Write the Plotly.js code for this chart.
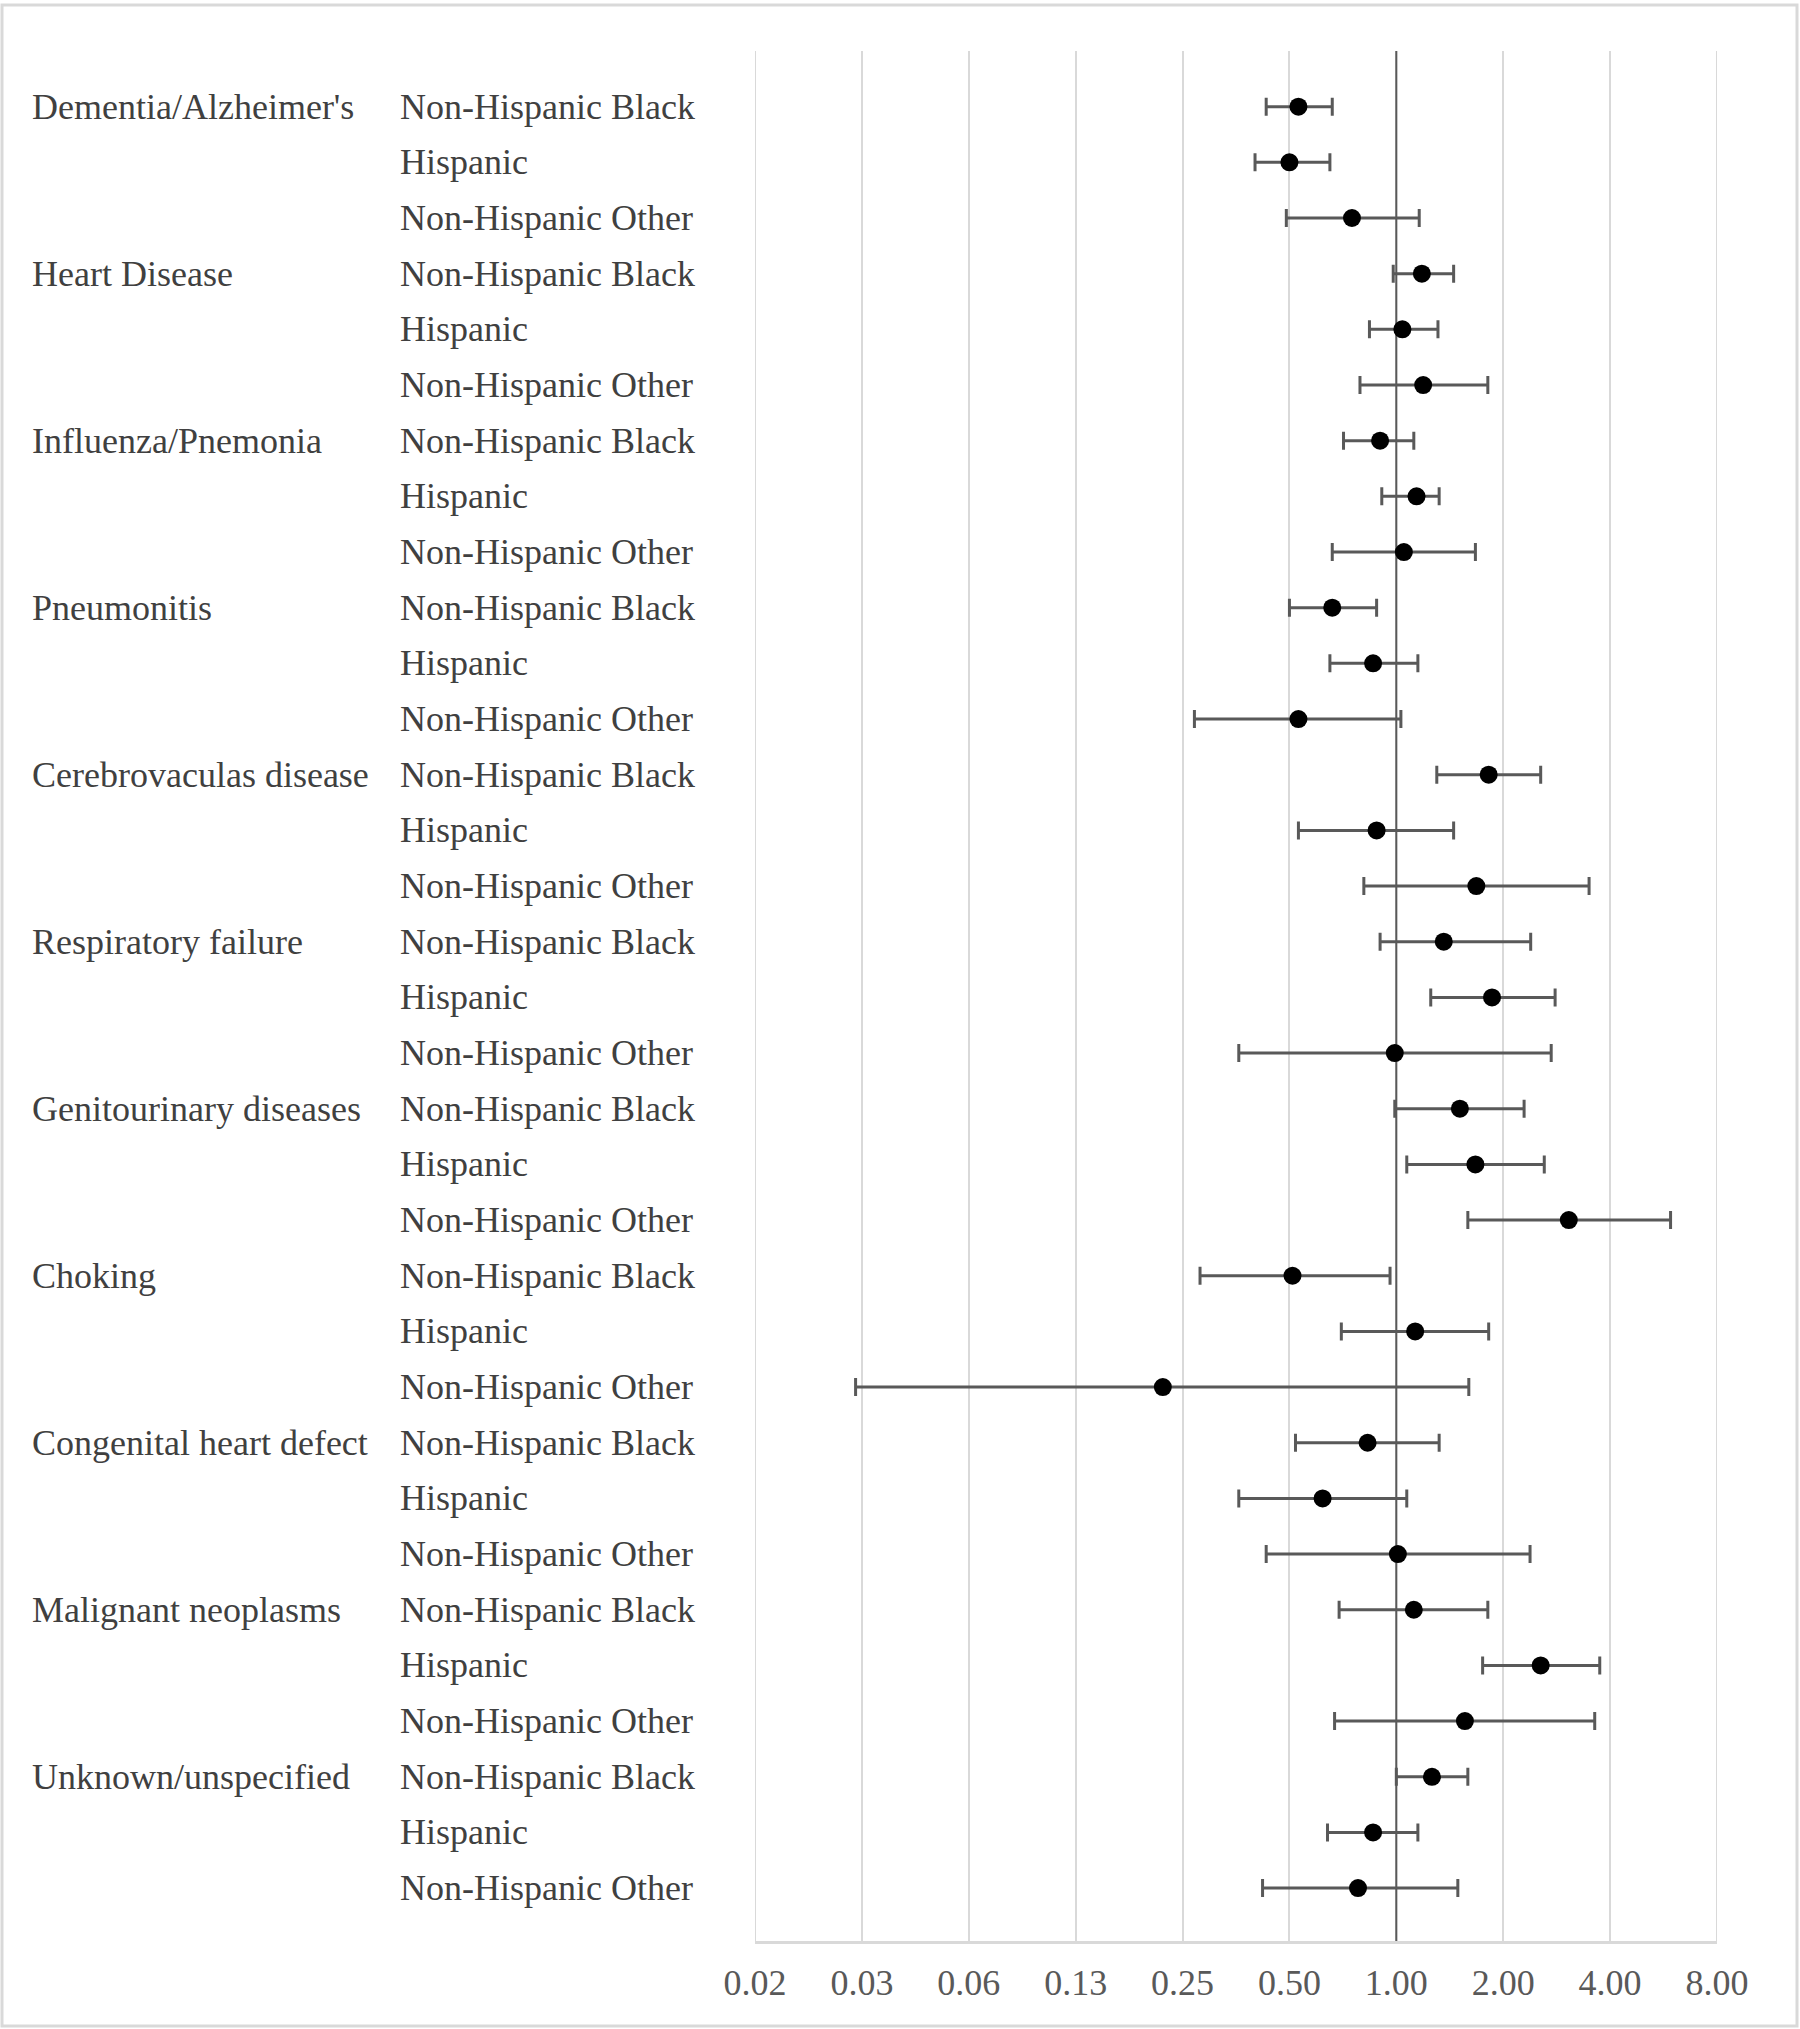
<!DOCTYPE html>
<html>
<head>
<meta charset="utf-8">
<script src="https://cdn.plot.ly/plotly-3.0.1.min.js"></script>
<style>
  html, body { margin: 0; padding: 0; background: #fff; }
  #chart { width: 1800px; height: 2029px; }
</style>
</head>
<body>
<div id="chart"></div>
<script>
// causes of death, three race/ethnicity rows each (reference: Non-Hispanic White)
const causes = [
  "Dementia/Alzheimer's", 'Heart Disease', 'Influenza/Pnemonia', 'Pneumonitis',
  'Cerebrovaculas disease', 'Respiratory failure', 'Genitourinary diseases',
  'Choking', 'Congenital heart defect', 'Malignant neoplasms', 'Unknown/unspecified'
];
const groups = ['Non-Hispanic Black', 'Hispanic', 'Non-Hispanic Other'];

// odds ratio and 95% CI, one value per row (cause x group, top to bottom)
const orPoint = [
  0.53, 0.50, 0.75,
  1.18, 1.04, 1.19,
  0.90, 1.14, 1.05,
  0.66, 0.86, 0.53,
  1.82, 0.88, 1.68,
  1.36, 1.86, 0.99,
  1.51, 1.67, 3.06,
  0.51, 1.13, 0.22,
  0.83, 0.62, 1.01,
  1.12, 2.55, 1.56,
  1.26, 0.86, 0.78
];
const ciLow = [
  0.43, 0.40, 0.49,
  0.98, 0.84, 0.79,
  0.71, 0.91, 0.66,
  0.50, 0.65, 0.27,
  1.30, 0.53, 0.81,
  0.90, 1.25, 0.36,
  0.99, 1.07, 1.59,
  0.28, 0.70, 0.03,
  0.52, 0.36, 0.43,
  0.69, 1.75, 0.67,
  1.00, 0.64, 0.42
];
const ciHigh = [
  0.66, 0.65, 1.16,
  1.45, 1.31, 1.81,
  1.12, 1.32, 1.67,
  0.88, 1.15, 1.03,
  2.55, 1.45, 3.49,
  2.39, 2.80, 2.73,
  2.29, 2.61, 5.92,
  0.96, 1.82, 1.60,
  1.32, 1.07, 2.38,
  1.81, 3.74, 3.62,
  1.59, 1.15, 1.49
];

const tickVals = [1/64, 1/32, 1/16, 1/8, 1/4, 1/2, 1, 2, 4, 8];
const tickText = ['0.02', '0.03', '0.06', '0.13', '0.25', '0.50', '1.00', '2.00', '4.00', '8.00'];

const W = 1800, H = 2029;
const M = { l: 755, r: 83, t: 51, b: 88 };
const plotW = W - M.l - M.r, plotH = H - M.t - M.b;
const px2x = p => (p - M.l) / plotW;
const py2y = p => 1 - (p - M.t) / plotH;

const FONT = 'Liberation Serif, Times New Roman, serif';
const rows = orPoint.map((_, i) => i);

const traces = [
  // reference line at OR = 1
  { x: [1, 1], y: [-1, rows.length], mode: 'lines', line: { color: '#595959', width: 2 },
    hoverinfo: 'skip', showlegend: false },
  {
    x: orPoint, y: rows, mode: 'markers', type: 'scatter', showlegend: false,
    marker: { color: '#000', size: 18 },
    error_x: {
      type: 'data', symmetric: false,
      array: orPoint.map((v, i) => ciHigh[i] - v),
      arrayminus: orPoint.map((v, i) => v - ciLow[i]),
      color: '#595959', thickness: 3, width: 9
    }
  }
];

const annotations = [];
causes.forEach((c, k) => {
  annotations.push({ text: c, xref: 'paper', yref: 'y', x: px2x(30), y: k * 3,
    xanchor: 'left', yanchor: 'middle', showarrow: false,
    font: { family: FONT, size: 36, color: '#404040' } });
});
rows.forEach(i => {
  annotations.push({ text: groups[i % 3], xref: 'paper', yref: 'y', x: px2x(398), y: i,
    xanchor: 'left', yanchor: 'middle', showarrow: false,
    font: { family: FONT, size: 36, color: '#404040' } });
});

// plotly skips gridlines sitting on the plot edges, so draw those two by hand
const edgeGrid = [tickVals[0], tickVals[tickVals.length - 1]].map(v => ({
  type: 'line', xref: 'x', yref: 'paper', x0: v, x1: v, y0: 0, y1: 1,
  layer: 'below', line: { color: '#d9d9d9', width: 2 }
}));

const layout = {
  width: W, height: H,
  margin: M,
  paper_bgcolor: '#fff', plot_bgcolor: '#fff',
  showlegend: false,
  xaxis: {
    type: 'log',
    range: [Math.log10(1/64), Math.log10(8)],
    tickvals: tickVals, ticktext: tickText,
    showgrid: true, gridcolor: '#d9d9d9', gridwidth: 2,
    zeroline: false, ticks: '',
    showline: true, linecolor: '#d9d9d9', linewidth: 3,
    tickfont: { family: FONT, size: 36, color: '#595959' },
    ticklabelstandoff: 8
  },
  yaxis: {
    range: [32.95, -1],
    showgrid: false, zeroline: false, showticklabels: false, ticks: '', showline: false
  },
  annotations: annotations,
  shapes: [
    ...edgeGrid,
    // outer chart frame
    { type: 'rect', xref: 'paper', yref: 'paper', layer: 'below',
      x0: px2x(2), x1: px2x(1797), y0: py2y(2026), y1: py2y(5),
      line: { color: '#d9d9d9', width: 3 }, fillcolor: 'rgba(0,0,0,0)' }
  ]
};

Plotly.newPlot('chart', traces, layout, { staticPlot: true, displayModeBar: false });
</script>
</body>
</html>
